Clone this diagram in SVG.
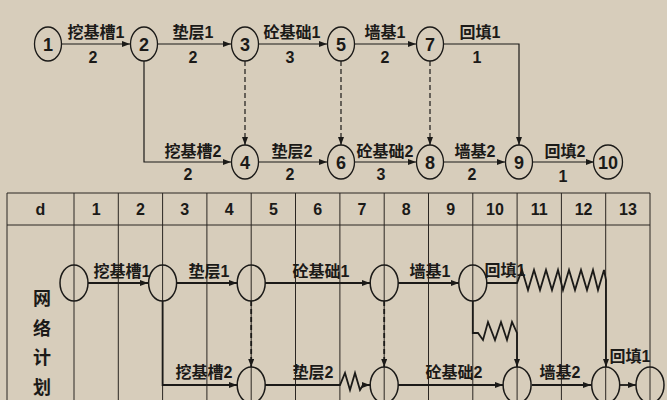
<svg xmlns="http://www.w3.org/2000/svg" width="667" height="400" viewBox="0 0 667 400">
<style>
text{font-family:"Liberation Sans","Noto Sans CJK SC",sans-serif;font-weight:bold;fill:#1b1a18;text-anchor:middle}
.lbl{font-size:16px}
.num{font-size:18px}
.hdr{font-size:16px;font-weight:normal}
.node{fill:none;stroke:#1b1a18;stroke-width:1.3}
.node2{fill:none;stroke:#1b1a18;stroke-width:1.5}
.c1{fill:none;stroke:#1b1a18;stroke-width:1.2}
.c2{fill:none;stroke:#1b1a18;stroke-width:1.8}
.dash{stroke-dasharray:5,3}
.grid{fill:none;stroke:#2a2622;stroke-width:1}
</style>
<defs>
<marker id="ah" markerUnits="userSpaceOnUse" markerWidth="8" markerHeight="6" refX="8" refY="3" orient="auto">
<path d="M0,0 L8,3 L0,6 z" fill="#1b1a18"/>
</marker>
</defs>
<rect width="667" height="400" fill="#d7cdbb"/>

<g id="table">
<path class="grid" d="M7,193 H650 M7,225 H650 M7,193 V400 M74,193 V400 M118.3,193 V400 M162.6,193 V400 M206.9,193 V400 M251.2,193 V400 M295.5,193 V400 M339.9,193 V400 M384.2,193 V400 M428.5,193 V400 M472.8,193 V400 M517.1,193 V400 M561.4,193 V400 M605.7,193 V400 M650,193 V400"/>
<text class="lbl" x="40.5" y="215">d</text>
<text class="lbl" x="96.2" y="215">1</text>
<text class="lbl" x="140.5" y="215">2</text>
<text class="lbl" x="184.8" y="215">3</text>
<text class="lbl" x="229.1" y="215">4</text>
<text class="lbl" x="273.4" y="215">5</text>
<text class="lbl" x="317.7" y="215">6</text>
<text class="lbl" x="362" y="215">7</text>
<text class="lbl" x="406.3" y="215">8</text>
<text class="lbl" x="450.6" y="215">9</text>
<text class="lbl" x="495" y="215">10</text>
<text class="lbl" x="539.3" y="215">11</text>
<text class="lbl" x="583.6" y="215">12</text>
<text class="lbl" x="627.9" y="215">13</text>
<text class="num" x="42" y="305">网</text>
<text class="num" x="42" y="335">络</text>
<text class="num" x="42" y="364">计</text>
<text class="num" x="42" y="394">划</text>
</g>

<g id="connectors">
<path class="c1" d="M62,44 H130" marker-end="url(#ah)"/>
<path class="c1" d="M158,44 H231" marker-end="url(#ah)"/>
<path class="c1" d="M259,44 H327" marker-end="url(#ah)"/>
<path class="c1" d="M355,44 H416" marker-end="url(#ah)"/>
<path class="c1" d="M444,44 H519 V145" marker-end="url(#ah)"/>
<path class="c1" d="M144,61 V162 H231" marker-end="url(#ah)"/>
<path class="c1 dash" d="M245,61 V145" marker-end="url(#ah)"/>
<path class="c1 dash" d="M341,61 V145" marker-end="url(#ah)"/>
<path class="c1 dash" d="M430,61 V145" marker-end="url(#ah)"/>
<path class="c1" d="M259,162 H327" marker-end="url(#ah)"/>
<path class="c1" d="M355,162 H416" marker-end="url(#ah)"/>
<path class="c1" d="M444,162 H505" marker-end="url(#ah)"/>
<path class="c1" d="M533,162 H594" marker-end="url(#ah)"/>

<path class="c2" d="M88,283 H148" marker-end="url(#ah)"/>
<path class="c2" d="M177,283 H237" marker-end="url(#ah)"/>
<path class="c2" d="M265,283 H370" marker-end="url(#ah)"/>
<path class="c2" d="M398,283 H459" marker-end="url(#ah)"/>
<path class="c2" d="M487,283 H517 L522,270 L528,290 L534,270 L540,290 L546,270 L552,290 L558,270 L563,290 L569,270 L575,290 L581,270 L587,290 L593,270 L598,290 L604,270 L606,280 V367" marker-end="url(#ah)"/>
<path class="c2 dash" d="M251.2,301 V367" marker-end="url(#ah)"/>
<path class="c2 dash" d="M384.2,301 V367" marker-end="url(#ah)"/>
<path class="c2" d="M162.6,301 V385 H237" marker-end="url(#ah)"/>
<path class="c2" d="M265,385 H340 L345,373 L350,390 L355,373 L360,390 L363,385 H370" marker-end="url(#ah)"/>
<path class="c2" d="M398,385 H503" marker-end="url(#ah)"/>
<path class="c2" d="M472.8,301 V333 L478,333 L483,340 L488,322 L495,340 L501,322 L507,340 L512,322 L517,333 V367" marker-end="url(#ah)"/>
<path class="c2" d="M532,385 H591" marker-end="url(#ah)"/>
<path class="c2" d="M620,385 H636" marker-end="url(#ah)"/>
</g>

<g id="labels">
<text class="lbl" x="96" y="38">挖基槽1</text>
<text class="lbl" x="93" y="63">2</text>
<text class="lbl" x="193" y="38">垫层1</text>
<text class="lbl" x="193" y="63">2</text>
<text class="lbl" x="292" y="38">砼基础1</text>
<text class="lbl" x="290" y="63">3</text>
<text class="lbl" x="385" y="38">墙基1</text>
<text class="lbl" x="385" y="63">2</text>
<text class="lbl" x="480" y="38">回填1</text>
<text class="lbl" x="477" y="63">1</text>
<text class="lbl" x="193" y="157">挖基槽2</text>
<text class="lbl" x="188" y="180">2</text>
<text class="lbl" x="292" y="157">垫层2</text>
<text class="lbl" x="290" y="180">2</text>
<text class="lbl" x="385" y="157">砼基础2</text>
<text class="lbl" x="381" y="180">3</text>
<text class="lbl" x="475" y="157">墙基2</text>
<text class="lbl" x="472" y="180">2</text>
<text class="lbl" x="565" y="157">回填2</text>
<text class="lbl" x="563" y="182">1</text>

<text class="lbl" x="122" y="277">挖基槽1</text>
<text class="lbl" x="209" y="277">垫层1</text>
<text class="lbl" x="321" y="277">砼基础1</text>
<text class="lbl" x="430" y="277">墙基1</text>
<text class="lbl" x="505" y="276">回填1</text>
<text class="lbl" x="204" y="378">挖基槽2</text>
<text class="lbl" x="313" y="378">垫层2</text>
<text class="lbl" x="454" y="378">砼基础2</text>
<text class="lbl" x="560" y="378">墙基2</text>
<text class="lbl" x="630" y="362">回填1</text>
</g>

<g id="n1"><ellipse class="node" cx="48" cy="44" rx="13.5" ry="17"/><text class="num" x="48" y="51">1</text></g>
<g id="n2"><ellipse class="node" cx="144" cy="44" rx="13.5" ry="17"/><text class="num" x="144" y="51">2</text></g>
<g id="n3"><ellipse class="node" cx="245" cy="44" rx="13.5" ry="17"/><text class="num" x="245" y="51">3</text></g>
<g id="n5"><ellipse class="node" cx="341" cy="44" rx="13.5" ry="17"/><text class="num" x="341" y="51">5</text></g>
<g id="n7"><ellipse class="node" cx="430" cy="44" rx="13.5" ry="17"/><text class="num" x="430" y="51">7</text></g>
<g id="n4"><ellipse class="node" cx="245" cy="162" rx="13.5" ry="17"/><text class="num" x="245" y="169">4</text></g>
<g id="n6"><ellipse class="node" cx="341" cy="162" rx="13.5" ry="17"/><text class="num" x="341" y="169">6</text></g>
<g id="n8"><ellipse class="node" cx="430" cy="162" rx="13.5" ry="17"/><text class="num" x="430" y="169">8</text></g>
<g id="n9"><ellipse class="node" cx="519" cy="162" rx="13.5" ry="17"/><text class="num" x="519" y="169">9</text></g>
<g id="n10"><ellipse class="node" cx="608" cy="162" rx="14.5" ry="17"/><text class="num" x="608" y="169">10</text></g>

<g id="m1"><ellipse class="node2" cx="74" cy="283" rx="14" ry="18"/></g>
<g id="m2"><ellipse class="node2" cx="162.6" cy="283" rx="14" ry="18"/></g>
<g id="m3"><ellipse class="node2" cx="251.2" cy="283" rx="14" ry="18"/></g>
<g id="m5"><ellipse class="node2" cx="384.2" cy="283" rx="14" ry="18"/></g>
<g id="m7"><ellipse class="node2" cx="472.8" cy="283" rx="14" ry="18"/></g>
<g id="m4"><ellipse class="node2" cx="251.2" cy="385" rx="14" ry="18"/></g>
<g id="m6"><ellipse class="node2" cx="384.2" cy="385" rx="14" ry="18"/></g>
<g id="m8"><ellipse class="node2" cx="517.1" cy="385" rx="14" ry="18"/></g>
<g id="m9"><ellipse class="node2" cx="605.7" cy="385" rx="14" ry="18"/></g>
<g id="m10"><ellipse class="node2" cx="650" cy="385" rx="14" ry="18"/></g>
</svg>
